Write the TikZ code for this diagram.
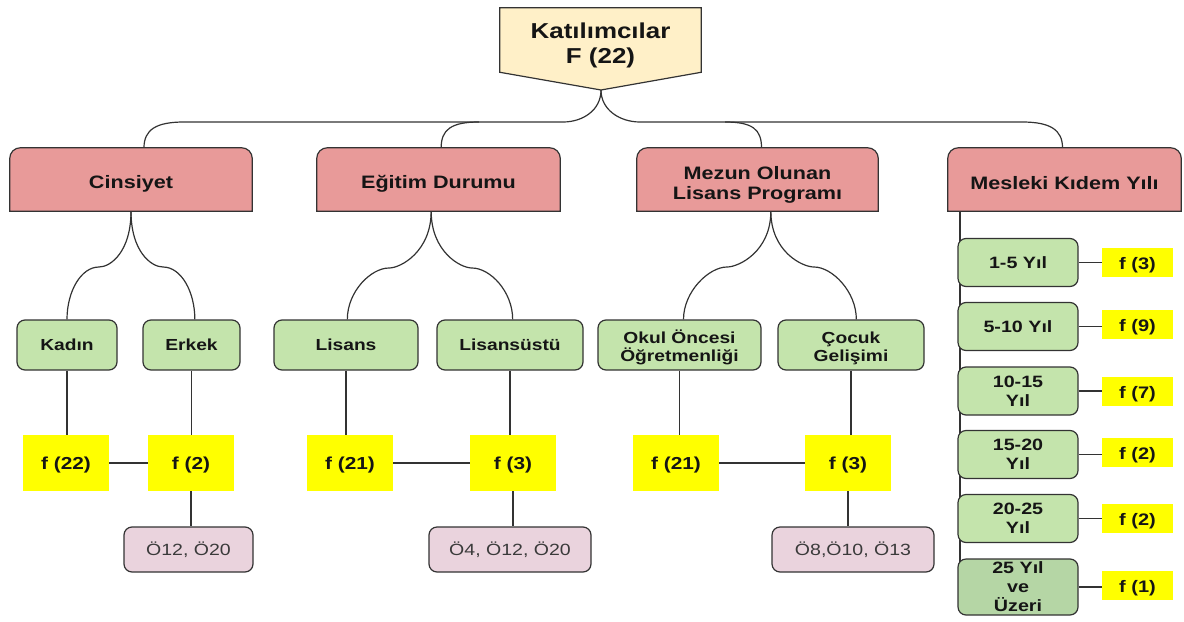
\documentclass[tikz,border=0pt]{standalone}
\usepackage{fontspec}
\setmainfont[FakeStretch=1.2]{Liberation Sans}
\usetikzlibrary{backgrounds}
\definecolor{bd}{HTML}{333333}
\definecolor{txt}{HTML}{151515}
\definecolor{gtxt}{HTML}{3A3A3A}
\definecolor{hdrpink}{HTML}{E89A99}
\definecolor{topyel}{HTML}{FFF0C8}
\definecolor{green1}{HTML}{C4E4AC}
\definecolor{green2}{HTML}{B5D6A5}
\definecolor{yel}{HTML}{FFFF00}
\definecolor{pinkl}{HTML}{EAD3DD}
\newcommand\strt[1]{\rule{0pt}{#1}}
\begin{document}
\begin{tikzpicture}[x=0.75pt,y=-0.75pt,
  sz/.style 2 args={minimum width=#1*0.75pt,minimum height=#2*0.75pt},
  base/.style={inner sep=0pt,align=center,text=txt},
  topbox/.style={base,font=\fontsize{16.2}{18.75}\selectfont\bfseries},
  hdr/.style={base,font=\fontsize{13.5}{15}\selectfont\bfseries},
  grn/.style={base,draw=bd,line width=0.9pt,fill=green1,rounded corners=6pt,font=\fontsize{12}{13.5}\selectfont\bfseries},
  grnr/.style={grn,font=\fontsize{12.3}{14.2}\selectfont\bfseries},
  ylw/.style={base,fill=yel,font=\fontsize{13}{15}\selectfont\bfseries},
  ylws/.style={base,fill=yel,font=\fontsize{12.5}{14}\selectfont\bfseries},
  gry/.style={base,draw=bd,line width=0.9pt,fill=pinkl,rounded corners=6pt,text=gtxt,font=\fontsize{12.2}{14}\selectfont},
  conn/.style={draw=bd,line width=0.9pt},
  hdrshape/.style={draw=bd,fill=hdrpink,line width=0.9pt}
]
\useasboundingbox (0,0) rectangle (1184,621);

% top node
\node[topbox,sz={201}{64}] (top) at (600.5,40) {\strt{19.3pt}Katılımcılar\\F (22)};
\coordinate (tip) at (601,90);

% headers
\node[hdr,sz={242}{63}] (cins) at (131,179.5) {\strt{16.2pt}Cinsiyet};
\node[hdr,sz={243}{63}] (egit) at (438.5,179.5) {\strt{16.2pt}Eğitim Durumu};
\node[hdr,sz={241}{63}] (mezun) at (757.5,179.5) {\strt{17.3pt}Mezun Olunan\\Lisans Programı};
\node[hdr,sz={233}{63}] (mesl) at (1064.5,179.5) {\strt{15.8pt}Mesleki Kıdem Yılı};

% level 2 green
\node[grn,sz={100}{50}] (kadin) at (67,345) {Kadın};
\node[grn,sz={97}{50}] (erkek) at (191.5,345) {Erkek};
\node[grn,sz={144}{50}] (lisans) at (346,345) {Lisans};
\node[grn,sz={146}{50}] (lisu) at (510,345) {Lisansüstü};
\node[grn,sz={163}{50}] (okul) at (679.5,345) {\strt{14.5pt}Okul Öncesi\\Öğretmenliği};
\node[grn,sz={146}{50}] (cocuk) at (851,345) {\strt{13.3pt}Çocuk\\Gelişimi};

% yellow
\node[ylw,sz={86}{56}] (f22) at (66,463) {\strt{12.5pt}f (22)};
\node[ylw,sz={86}{56}] (f2) at (191,463) {\strt{12.5pt}f (2)};
\node[ylw,sz={86}{56}] (f21a) at (350,463) {\strt{12.5pt}f (21)};
\node[ylw,sz={86}{56}] (f3a) at (513,463) {\strt{12.5pt}f (3)};
\node[ylw,sz={86}{56}] (f21b) at (676,463) {\strt{12.5pt}f (21)};
\node[ylw,sz={86}{56}] (f3b) at (848,463) {\strt{12.5pt}f (3)};

% gray
\node[gry,sz={129}{45}] (g1) at (188.5,549.5) {Ö12, Ö20};
\node[gry,sz={162}{45}] (g2) at (510,549.5) {Ö4, Ö12, Ö20};
\node[gry,sz={162}{45}] (g3) at (853,549.5) {Ö8,Ö10, Ö13};

% right column
\node[grnr,sz={120}{48}] (y1) at (1018,262.5) {1-5 Yıl};
\node[grnr,sz={120}{48}] (y2) at (1018,326.5) {5-10 Yıl};
\node[grnr,sz={120}{48}] (y3) at (1018,391) {10-15\\Yıl};
\node[grnr,sz={120}{48}] (y4) at (1018,454.5) {15-20\\Yıl};
\node[grnr,sz={120}{48}] (y5) at (1018,518.5) {20-25\\Yıl};
\node[grnr,fill=green2,sz={120}{56}] (y6) at (1018,587) {25 Yıl\\ve\\Üzeri};
\node[ylws,sz={71}{29}] (k1) at (1137.5,262.5) {\strt{13.6pt}f (3)};
\node[ylws,sz={71}{29}] (k2) at (1137.5,324) {\strt{13.6pt}f (9)};
\node[ylws,sz={71}{29}] (k3) at (1137.5,391.5) {\strt{13.6pt}f (7)};
\node[ylws,sz={71}{29}] (k4) at (1137.5,452.5) {\strt{13.6pt}f (2)};
\node[ylws,sz={71}{29}] (k5) at (1137.5,518.5) {\strt{13.6pt}f (2)};
\node[ylws,sz={71}{29}] (k6) at (1137.5,585.5) {\strt{13.6pt}f (1)};

\coordinate (mv) at (960,600);

\begin{scope}[on background layer]
  \path[draw=bd,fill=topyel,line width=0.9pt] (top.north west) -- (top.north east) -- (top.south east) -- (tip) -- (top.south west) -- cycle;
  \foreach \n in {cins,egit,mezun,mesl}{
    \path[hdrshape] (\n.south west) -- ([yshift=-8pt]\n.north west) arc[start angle=180,end angle=90,radius=8pt] -- ([xshift=-8pt]\n.north east) arc[start angle=90,end angle=0,radius=8pt] -- (\n.south east) -- cycle;
  }
  \draw[conn] (mesl.south -| mv) -- (mv);
\end{scope}

% top connectors
\coordinate (hl) at (563,122);
\coordinate (hl2) at (184,122);
\coordinate (he) at (479,122);
\coordinate (hr) at (640,122);
\coordinate (hr2) at (1022,122);
\coordinate (hm) at (725,122);
\draw[conn] (tip) .. controls +(0,20) and +(20,0) .. (hl) -- (hl2) .. controls +(-28,0) and +(0,-18) .. ([xshift=9.75pt]cins.north);
\draw[conn] (he) .. controls +(-28,0) and +(0,-18) .. ([xshift=2pt]egit.north);
\draw[conn] (tip) .. controls +(0,20) and +(-20,0) .. (hr) -- (hr2) .. controls +(28,0) and +(0,-18) .. ([xshift=-1.5pt]mesl.north);
\draw[conn] (hm) .. controls +(28,0) and +(0,-18) .. ([xshift=3pt]mezun.north);

% bracket connectors
\coordinate (cmL) at (99,267);
\coordinate (cmR) at (163,267);
\draw[conn] (cins.south) .. controls +(0,40) and +(12,0) .. (cmL) .. controls +(-18,0) and +(0,-28) .. (kadin.north);
\draw[conn] (cins.south) .. controls +(0,40) and +(-12,0) .. (cmR) .. controls +(18,0) and +(0,-28) .. ([xshift=2.5pt]erkek.north);
\coordinate (emL) at (389,268);
\coordinate (emR) at (472,268);
\draw[conn] ([xshift=-5.5pt]egit.south) .. controls +(0,40) and +(12,0) .. (emL) .. controls +(-18,0) and +(0,-28) .. ([xshift=1pt]lisans.north);
\draw[conn] ([xshift=-5.5pt]egit.south) .. controls +(0,40) and +(-12,0) .. (emR) .. controls +(18,0) and +(0,-28) .. ([xshift=2pt]lisu.north);
\coordinate (mmL) at (727,267);
\coordinate (mmR) at (814,267);
\draw[conn] ([xshift=10pt]mezun.south) .. controls +(0,40) and +(12,0) .. (mmL) .. controls +(-18,0) and +(0,-28) .. ([xshift=3pt]okul.north);
\draw[conn] ([xshift=10pt]mezun.south) .. controls +(0,40) and +(-12,0) .. (mmR) .. controls +(18,0) and +(0,-28) .. ([xshift=4pt]cocuk.north);

% vertical to yellow
\foreach \a/\b in {kadin/f22,erkek/f2,lisans/f21a,lisu/f3a,okul/f21b,cocuk/f3b}{
  \draw[conn] (\a.south) -- (\a.south |- \b.north);
}
\foreach \a/\b in {f22/f2,f21a/f3a,f21b/f3b}{
  \draw[conn] (\a.east) -- (\b.west);
}
\foreach \a/\b in {f2/g1,f3a/g2,f3b/g3}{
  \draw[conn] (\a.south) -- (\a.south |- \b.north);
}
\foreach \a/\b in {y1/k1,y2/k2,y3/k3,y4/k4,y5/k5,y6/k6}{
  \draw[conn] (\a.east) -- (\a.east -| \b.west);
}
\end{tikzpicture}
\end{document}
